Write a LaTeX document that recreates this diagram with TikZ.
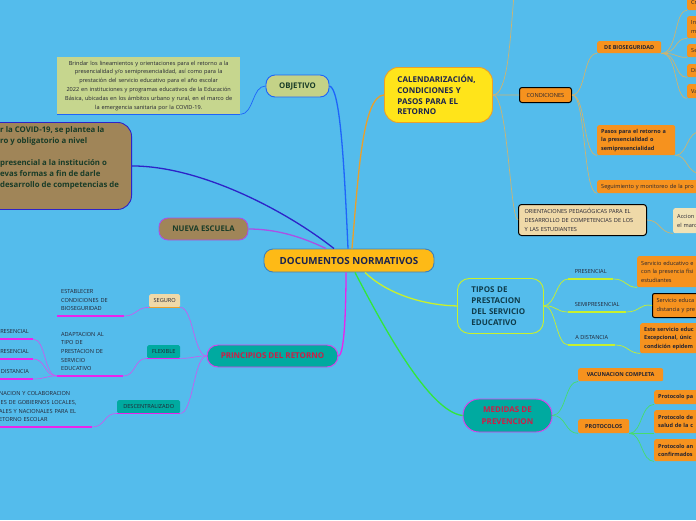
\documentclass[tikz,border=0pt]{standalone}
\usepackage{fontspec}
\setmainfont{Open Sans}
\definecolor{bg}{RGB}{84,188,236}
\definecolor{docyellow}{RGB}{254,186,22}
\definecolor{docline}{RGB}{60,130,190}
\definecolor{navy}{RGB}{25,35,80}
\definecolor{olive}{RGB}{196,210,135}
\definecolor{olivelt}{RGB}{198,214,142}
\definecolor{objblue}{RGB}{30,100,250}
\definecolor{introblue}{RGB}{45,35,200}
\definecolor{brownfill}{RGB}{160,133,88}
\definecolor{nuevapurple}{RGB}{170,80,230}
\definecolor{dkgreen}{RGB}{25,60,40}
\definecolor{calyellow}{RGB}{255,228,26}
\definecolor{calorange}{RGB}{232,160,45}
\definecolor{tanline}{RGB}{205,180,112}
\definecolor{orng}{RGB}{246,146,30}
\definecolor{tanfill}{RGB}{239,217,168}
\definecolor{tanlt}{RGB}{240,226,182}
\definecolor{ygreen}{RGB}{200,240,45}
\definecolor{dkteal}{RGB}{15,60,75}
\definecolor{tealfill}{RGB}{0,170,160}
\definecolor{magborder}{RGB}{225,60,235}
\definecolor{magline}{RGB}{235,35,235}
\definecolor{lavender}{RGB}{195,95,240}
\definecolor{crimson}{RGB}{205,30,70}
\definecolor{medgreen}{RGB}{50,230,60}
\definecolor{protgreen}{RGB}{70,220,110}
\definecolor{ink}{RGB}{35,35,50}
\begin{document}
\begin{tikzpicture}[x=1pt,y=-1pt,
  tiny/.style={font=\fontsize{5.6}{8.6}\selectfont, text=ink},
  tinyb/.style={font=\bfseries\fontsize{5.5}{8.4}\selectfont, text=ink},
  topic/.style={line width=0.9pt, rounded corners=9pt, inner sep=0pt, font=\bfseries\fontsize{7.8}{10}\selectfont},
  obox/.style={fill=orng, rounded corners=2pt, inner xsep=4pt, inner ysep=0pt, align=left},
  undl/.style={anchor=south west, align=left, inner xsep=4pt, inner ysep=5pt},
  branch/.style={line width=1.3pt},
  twig/.style={line width=0.7pt}]
  \useasboundingbox (0,0) rectangle (696,520);
  \fill[bg] (0,0) rectangle (696,520);

  \node[topic, fill=docyellow, draw=docline, text=navy, minimum width=170pt, minimum height=23pt, font=\bfseries\fontsize{9.8}{11}\selectfont] (doc) at (349,260.5) {DOCUMENTOS NORMATIVOS};

  % objetivo
  \node[topic, fill=olive, draw=objblue, text=dkgreen, minimum width=63pt, minimum height=22pt] (obj) at (297.5,86) {OBJETIVO};
  \node[tiny, fill=olivelt, anchor=north west, text width=177pt, align=center, minimum height=57pt, inner xsep=3pt, inner ysep=0pt, font=\fontsize{5.6}{8.8}\selectfont] (objtxt) at (57,57) {Brindar los lineamientos y orientaciones para el retorno a la\\presencialidad y/o semipresencialidad, así como para la\\prestación del servicio educativo para el año escolar\\2022 en instituciones y programas educativos de la Educación\\Básica, ubicadas en los ámbitos urbano y rural, en el marco de\\la emergencia sanitaria por la COVID-19.};
  \draw[objblue, line width=1pt] (objtxt.south west) -- (objtxt.south east);
  \draw[objblue, twig] (obj.west) .. controls (252,86) and (254,114) .. (objtxt.south east);
  \draw[objblue, branch] ([xshift=-1pt]doc.north) .. controls (344,160) and (340,88) .. (obj.east);

  % texto de la izquierda
  \node[fill=brownfill, draw=introblue, line width=0.9pt, rounded corners=14pt, anchor=north east, minimum width=170pt, minimum height=87pt] (intro) at (132,122) {};
  \node[anchor=north west, align=left, inner sep=0pt, text=dkgreen, font=\bfseries\fontsize{7.8}{11}\selectfont] (introtxt) at (0,126.5) {r la COVID-19, se plantea la\\ro y obligatorio a nivel\\[11pt]presencial a la institución o\\evas formas a fin de darle\\desarrollo de competencias de};
  \draw[introblue, branch] ([xshift=-15pt]doc.north) .. controls (285,210) and (200,166) .. (intro.east);

  \node[topic, fill=brownfill, draw=nuevapurple, text=dkgreen, minimum width=89pt, minimum height=22pt] (nueva) at (203.5,229) {NUEVA ESCUELA};
  \draw[nuevapurple, branch] ([xshift=-23pt]doc.north) .. controls (300,236) and (275,229) .. (nueva.east);

  % calendarizacion
  \node[fill=calyellow, draw=calorange, line width=0.9pt, rounded corners=14pt, anchor=north west, minimum height=55pt, text width=82pt, inner xsep=13pt, align=left, text=navy, font=\bfseries\fontsize{8}{10.9}\selectfont] (cal) at (384,67) {CALENDARIZACIÓN,\\CONDICIONES Y\\PASOS PARA EL\\RETORNO};
  \draw[calorange, branch] ([xshift=3pt]doc.north) .. controls (358,180) and (362,96) .. (cal.west);

  \coordinate (calup) at (514,-5);
  \node[obox, tiny, draw=black, line width=1pt, rounded corners=2.5pt, minimum width=52pt, minimum height=15pt, anchor=north west] (cond) at (519,87) {CONDICIONES};
  \node[obox, fill=tanfill, tiny, draw=black, line width=1pt, rounded corners=3pt, anchor=north west, text width=116pt, inner xsep=6pt, minimum height=31pt] (ori) at (518,204) {ORIENTACIONES PEDAGÓGICAS PARA EL\\DESARROLLO DE COMPETENCIAS DE LOS\\Y LAS ESTUDIANTES};
  \draw[tanline, twig] (cal.east) .. controls (508,95) and (510,40) .. (calup);
  \draw[tanline, twig] (cal.east) -- (cond.west);
  \draw[tanline, twig] (cal.east) .. controls (508,95) and (510,219) .. (ori.west);

  \node[obox, tinyb, minimum width=64pt, minimum height=12pt, anchor=north west] (bio) at (597,41) {DE BIOSEGURIDAD};
  \node[obox, tinyb, anchor=north west, text width=70pt, minimum height=30pt] (pasos) at (597,125) {Pasos para el retorno a\\la presencialidad o\\semipresencialidad};
  \node[obox, tiny, anchor=north west, text width=110pt, minimum height=13pt] (segui) at (597,180) {Seguimiento y monitoreo de la pro};
  \foreach \t in {bio,pasos,segui}
    \draw[tanline, twig] (cond.east) .. controls (586,95) and (583,0 |- \t.south west) .. (\t.south west);

  \node[obox, tiny, anchor=north west, text width=22pt, minimum height=15pt] (bio1) at (687,-5) {Cr};
  \node[obox, tiny, anchor=north west, text width=22pt, minimum height=22pt] (bio2) at (687,16) {In\\m};
  \node[obox, tiny, anchor=north west, text width=22pt, minimum height=13pt] (bio3) at (687,44) {Se};
  \node[obox, tiny, anchor=north west, text width=22pt, minimum height=13pt] (bio4) at (687,64) {Di};
  \node[obox, tiny, anchor=north west, text width=22pt, minimum height=14pt] (bio5) at (687,84) {Va};
  \foreach \l in {bio1,bio2,bio3,bio4,bio5}
    \draw[tanline, twig] (bio.south east) .. controls (678,53) and (674,0 |- \l.south west) .. (\l.south west);

  \coordinate (pasosup) at (702,131);
  \coordinate (pasosdn) at (702,174);
  \draw[tanline, twig] (pasos.south east) .. controls (688,155) and (686,131) .. (pasosup);
  \draw[tanline, twig] (pasos.south east) .. controls (688,155) and (686,174) .. (pasosdn);

  \node[obox, fill=tanlt, tiny, anchor=north west, text width=30pt, minimum height=25pt] (acc) at (673,208) {Accion\\el marc};
  \draw[tanline, twig] (ori.east) .. controls (660,220) and (660,233) .. (acc.south west);

  % tipos de prestacion
  \node[fill=bg, draw=ygreen, line width=0.9pt, rounded corners=12pt, anchor=north west, minimum height=55pt, text width=58pt, inner xsep=14pt, align=left, text=dkteal, font=\bfseries\fontsize{8}{11}\selectfont] (tipos) at (457,278) {TIPOS DE\\PRESTACION\\DEL SERVICIO\\EDUCATIVO};
  \draw[ygreen, branch] ([xshift=16pt]doc.south) .. controls (385,292) and (420,305) .. (tipos.west);

  \node[tiny, undl, minimum width=45pt] (pres) at (568,279) {PRESENCIAL};
  \node[tiny, undl, minimum width=58pt] (semi) at (568,312) {SEMIPRESENCIAL};
  \node[tiny, undl, minimum width=47pt] (dist) at (568,345) {A DISTANCIA};
  \foreach \p in {pres,semi,dist} {
    \draw[ygreen, line width=1.5pt] (\p.south west) -- (\p.south east);
    \draw[ygreen, twig] (tipos.east) .. controls (556,305) and (556,0 |- \p.south west) .. (\p.south west);
  }

  \node[obox, tiny, anchor=north west, text width=62pt, minimum height=31pt] (srv1) at (637,256) {Servicio educativo e\\con la presencia físi\\estudiantes};
  \node[obox, tiny, draw=black, line width=1pt, anchor=north west, text width=45pt, minimum height=24pt] (srv2) at (652,293) {Servicio educa\\distancia y pre};
  \node[obox, tinyb, anchor=north west, text width=55pt, minimum height=30pt] (srv3) at (640,323) {Este servicio educ\\Excepcional, únic\\condición epidem};
  \draw[ygreen, twig] (pres.south east) .. controls (626,279) and (625,287) .. (srv1.south west);
  \draw[ygreen, twig] (semi.south east) .. controls (640,312) and (640,303) .. (srv2.west);
  \draw[ygreen, twig] (dist.south east) .. controls (628,345) and (628,353) .. (srv3.south west);

  % medidas de prevencion
  \node[topic, fill=tealfill, draw=magborder, text=crimson, minimum width=89pt, minimum height=33pt, rounded corners=16pt, align=center, font=\bfseries\fontsize{8}{11.5}\selectfont] (med) at (507.5,415.5) {MEDIDAS DE\\PREVENCION};
  \draw[medgreen, branch] ([xshift=6pt]doc.south) .. controls (385,330) and (430,412) .. (med.west);

  \node[obox, tinyb, anchor=north west, minimum width=85pt, minimum height=13pt] (vac) at (578,368) {VACUNACION COMPLETA};
  \node[obox, tinyb, anchor=north west, minimum width=51pt, minimum height=14pt] (prot) at (578,419) {PROTOCOLOS};
  \foreach \m in {vac,prot}
    \draw[protgreen, twig] (med.east) .. controls (566,415) and (565,0 |- \m.south west) .. (\m.south west);

  \node[obox, tinyb, anchor=north west, text width=45pt, minimum height=14pt] (prot1) at (654,390) {Protocolo pa};
  \node[obox, tinyb, anchor=north west, text width=45pt, minimum height=23pt] (prot2) at (654,410) {Protocolo de\\salud de la c};
  \node[obox, tinyb, anchor=north west, text width=45pt, minimum height=22pt] (prot3) at (654,439) {Protocolo an\\confirmados};
  \foreach \q in {prot1,prot2,prot3}
    \draw[protgreen, twig] (prot.south east) .. controls (642,433) and (641,0 |- \q.south west) .. (\q.south west);

  % principios del retorno
  \node[topic, fill=tealfill, draw=magborder, text=crimson, minimum width=131pt, minimum height=22pt, rounded corners=11pt, font=\bfseries\fontsize{8}{10}\selectfont] (prin) at (272.5,356) {PRINCIPIOS DEL RETORNO};
  \draw[magline, branch] (prin.east) .. controls (345,355) and (346,300) .. ([xshift=-3pt]doc.south);

  \node[obox, fill=tanfill, tiny, anchor=north west, minimum width=31pt, minimum height=13pt, rounded corners=1.5pt] (seg) at (149,294) {SEGURO};
  \node[obox, fill=tealfill, tiny, anchor=north west, minimum width=33pt, minimum height=13pt, rounded corners=1.5pt] (flex) at (147,345) {FLEXIBLE};
  \node[obox, fill=tealfill, tiny, anchor=north west, minimum width=63pt, minimum height=13pt, rounded corners=1.5pt] (desc) at (117,400) {DESCENTRALIZADO};
  \draw[calorange, line width=1.5pt] (seg.south west) -- (seg.south east);
  \draw[magline, line width=1.5pt] (flex.south west) -- (flex.south east);
  \draw[magline, line width=1.5pt] (desc.south west) -- (desc.south east);
  \foreach \s in {seg,flex,desc}
    \draw[lavender, twig] (prin.west) .. controls (194,356) and (193,0 |- \s.south east) .. (\s.south east);

  \node[tiny, undl, text width=59pt] (segtxt) at (57,316) {ESTABLECER\\CONDICIONES DE\\BIOSEGURIDAD};
  \node[tiny, undl, text width=58pt] (flextxt) at (57,376) {ADAPTACION AL\\TIPO DE\\PRESTACION DE\\SERVICIO\\EDUCATIVO};
  \node[tiny, undl, text width=89pt] (desctxt) at (-5,427) {NACION Y COLABORACION\\JES DE GOBIERNOS LOCALES,\\ALES Y NACIONALES PARA EL\\ETORNO ESCOLAR};
  \node[tiny, undl, anchor=south east] (lpres) at (33,339) {PRESENCIAL};
  \node[tiny, undl, anchor=south east] (lsemi) at (33,359) {SEMIPRESENCIAL};
  \node[tiny, undl, anchor=south east] (ldist) at (33,379) {A DISTANCIA};
  \foreach \u in {segtxt,flextxt,desctxt,lpres,lsemi,ldist}
    \draw[magline, line width=1.5pt] (\u.south west) -- (\u.south east);
  \draw[lavender, twig] (seg.south west) .. controls (137,307) and (136,316) .. (segtxt.south east);
  \draw[lavender, twig] (flex.south west) .. controls (134,358) and (136,376) .. (flextxt.south east);
  \draw[lavender, twig] (desc.south west) .. controls (104,413) and (105,427) .. (desctxt.south east);
  \foreach \v in {lpres,lsemi,ldist}
    \draw[lavender, twig] (flextxt.south west) .. controls (44,376) and (46,0 |- \v.south east) .. (\v.south east);
\end{tikzpicture}
\end{document}
